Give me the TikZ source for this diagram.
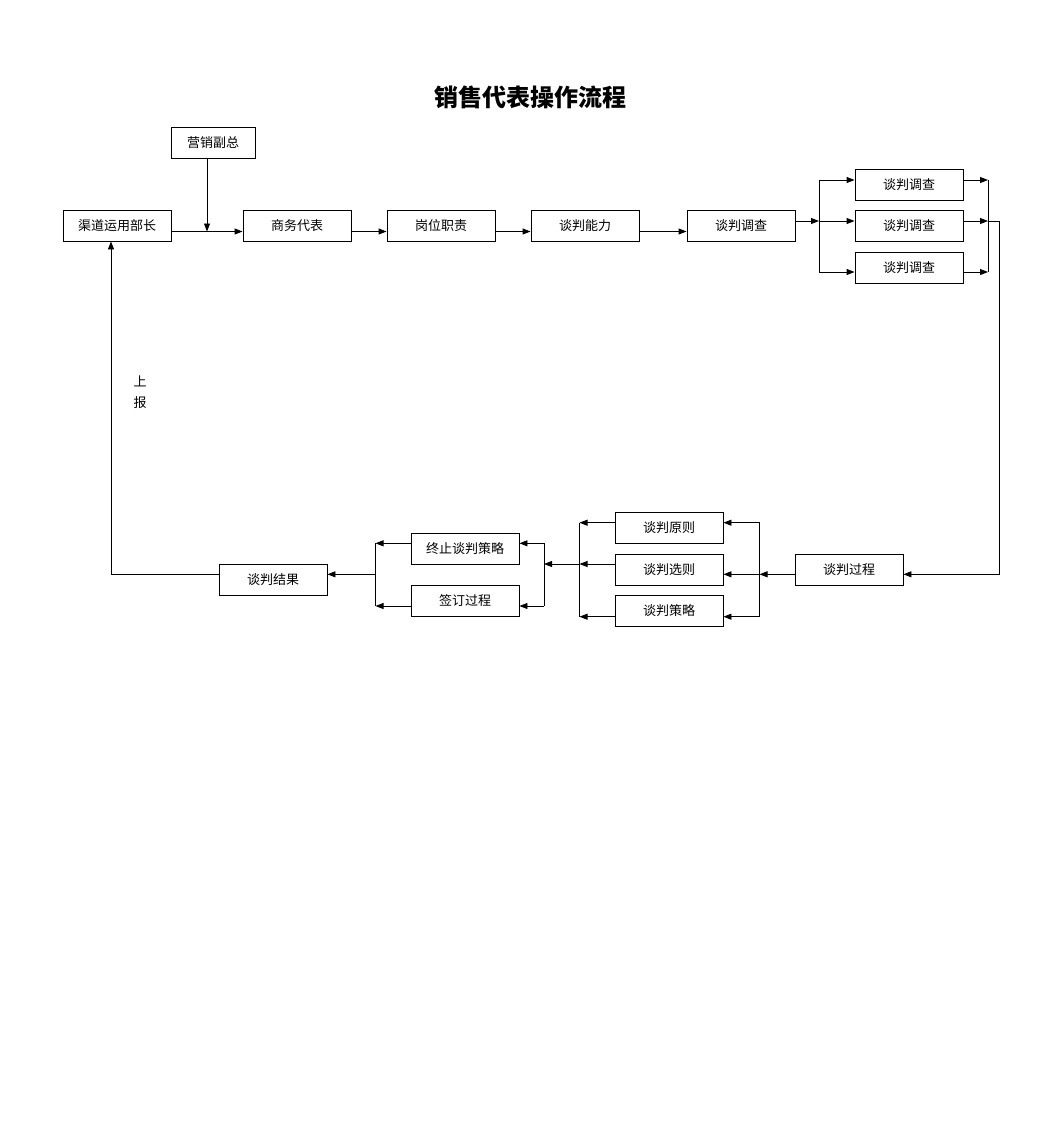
\documentclass[tikz,border=0pt]{standalone}
\usepackage{fontspec}
\newfontfamily\cjk{Noto Sans CJK SC}
\usetikzlibrary{arrows.meta}
\begin{document}
\begin{tikzpicture}[x=1pt,y=-1pt,line width=0.9pt,
  box/.style={draw,minimum width=108pt,minimum height=31pt,inner sep=0pt,font=\cjk\fontsize{13}{13}\selectfont},
  arr/.style={-{Triangle[length=8pt,width=6pt]}}]
  \useasboundingbox (0,0) rectangle (1058,1122);
  \node[font=\cjk\bfseries\fontsize{24}{24}\selectfont] (title) at (530,97) {销售代表操作流程};
  % top row
  \node[box,minimum width=84pt] (vp) at (213,142.5) {营销副总};
  \node[box] (qd) at (117,225.5) {渠道运用部长};
  \node[box] (sw) at (297,225.5) {商务代表};
  \node[box] (gw) at (441,225.5) {岗位职责};
  \node[box] (nl) at (585,225.5) {谈判能力};
  \node[box] (dc) at (741,225.5) {谈判调查};
  \foreach \n/\y in {1/184.5,2/225.5,3/267.5}{\node[box] (dc\n) at (909,\y) {谈判调查};}
  \coordinate (v1) at ([xshift=-6pt]vp.south);
  \coordinate (a1) at ([yshift=-6pt]sw.west);
  \draw[arr] ([yshift=-6pt]qd.east) -- (a1);
  \draw[arr] (v1) -- (v1 |- a1);
  \draw[arr] ([yshift=-6pt]sw.east) -- ([yshift=-6pt]gw.west);
  \draw[arr] ([yshift=-6pt]gw.east) -- ([yshift=-6pt]nl.west);
  \draw[arr] ([yshift=-6pt]nl.east) -- ([yshift=-6pt]dc.west);
  % split to the three checks
  \foreach \n/\s in {1/4.5,2/4.5,3/-4.5}{
    \coordinate (i\n) at ([yshift=\s pt]dc\n.west);
    \coordinate (o\n) at ([yshift=\s pt]dc\n.east);}
  \coordinate (s1) at (819,221);
  \coordinate (s2) at (988,221);
  \draw[arr] ([yshift=4.5pt]dc.east) -- (s1);
  \draw (s1 |- i1) -- (s1 |- i3);
  \draw (s2 |- o1) -- (s2 |- o3);
  \foreach \n in {1,2,3}{
    \draw[arr] (s1 |- i\n) -- (i\n);
    \draw[arr] (o\n) -- (s2 |- o\n);}
  % bottom row
  \node[box] (gc) at (849,569.5) {谈判过程};
  \node[box] (yz) at (669,527.5) {谈判原则};
  \node[box] (xz) at (669,569.5) {谈判选则};
  \node[box] (cl) at (669,611) {谈判策略};
  \node[box] (zz) at (465,548.5) {终止谈判策略};
  \node[box] (qy) at (465,600.5) {签订过程};
  \node[box] (jg) at (273,579.5) {谈判结果};
  \coordinate (g1) at ([yshift=-4.8pt]gc.east);
  \draw[arr] (s2) -- (999,221) -- (999,0 |- g1) -- (g1);
  \coordinate (s3) at (759.5,574.3);
  \draw[arr] ([yshift=-4.8pt]gc.west) -- (s3);
  \foreach \b/\s in {yz/4.8,xz/-4.8,cl/-5.7}{\coordinate (r\b) at ([yshift=\s pt]\b.east);}
  \foreach \b/\s in {yz/4.8,xz/5.5,cl/-5.7}{\coordinate (l\b) at ([yshift=\s pt]\b.west);}
  \draw (s3 |- ryz) -- (s3 |- rcl);
  \foreach \b in {yz,xz,cl}{\draw[arr] (s3 |- r\b) -- (r\b);}
  \coordinate (s4) at (579.5,564);
  \draw (s4 |- lyz) -- (s4 |- lcl);
  \foreach \b in {yz,xz,cl}{\draw[arr] (l\b) -- (s4 |- l\b);}
  \coordinate (s5) at (544,564);
  \draw[arr] (s4) -- (s5);
  \foreach \b/\s in {zz/5.2,qy/-5.5}{
    \coordinate (r\b) at ([yshift=\s pt]\b.east);
    \coordinate (l\b) at ([yshift=\s pt]\b.west);}
  \coordinate (s6) at (375.5,574.3);
  \draw (s5 |- rzz) -- (s5 |- rqy);
  \draw (s6 |- lzz) -- (s6 |- lqy);
  \foreach \b in {zz,qy}{
    \draw[arr] (s5 |- r\b) -- (r\b);
    \draw[arr] (l\b) -- (s6 |- l\b);}
  \draw[arr] (s6) -- ([yshift=5.2pt]jg.east);
  % report back
  \draw[arr] ([yshift=5.2pt]jg.west) -| ([xshift=-6pt]qd.south);
  \node[font=\cjk\fontsize{13}{21}\selectfont,align=center] (sb) at (140,392.5) {上\\报};
\end{tikzpicture}
\end{document}
